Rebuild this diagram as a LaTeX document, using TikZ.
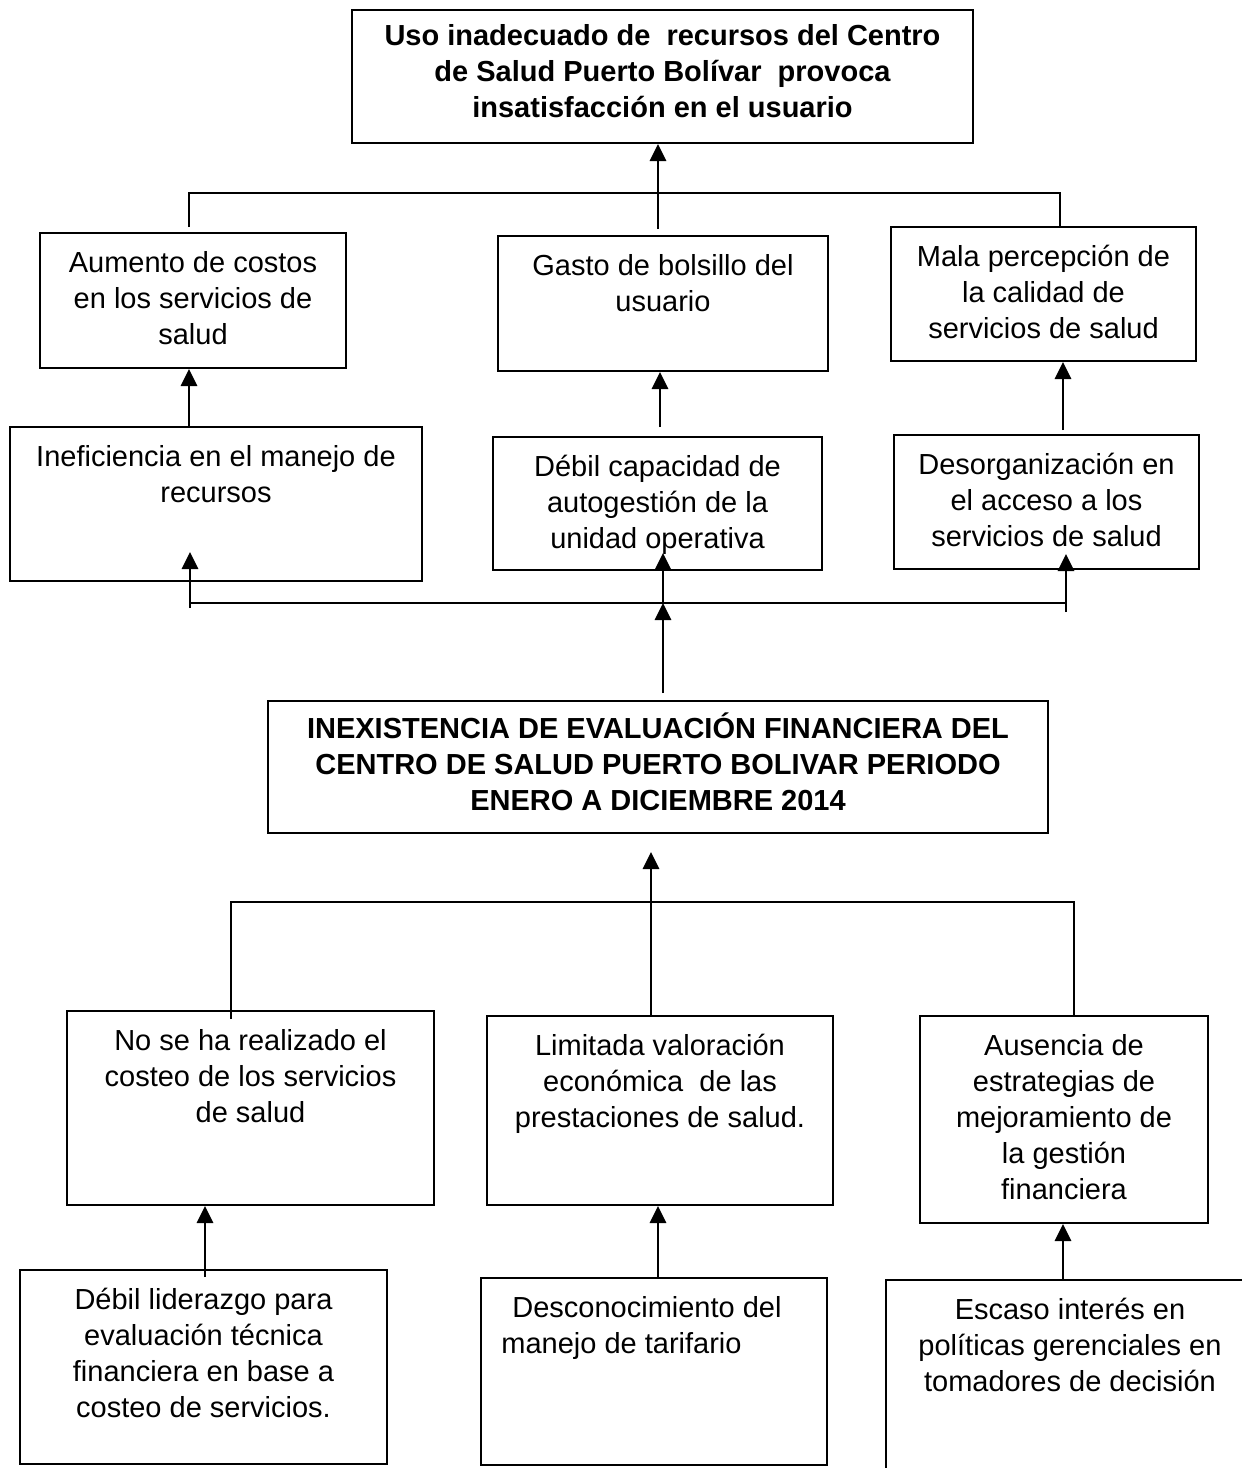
\documentclass[tikz,border=0pt]{standalone}
\usepackage{fontspec}
\setmainfont{Liberation Sans}
\usetikzlibrary{positioning,arrows.meta}
\tikzset{
  caja/.style={draw, line width=1pt, inner sep=0pt},
  texto/.style={inner sep=0pt, align=center, font=\fontsize{14.5}{18}\selectfont},
  textob/.style={texto, font=\fontsize{14.5}{18}\selectfont\bfseries},
  flecha/.style={line width=1.4pt, -{Triangle[width=8pt,length=8.5pt]}},
  rama/.style={line width=0.9pt},
}

\begin{document}
\begin{tikzpicture}[x=0.5pt,y=-0.5pt]
    \useasboundingbox (0,0) rectangle (1242,1468);

    % Efecto principal
    \node[caja, minimum width=310.5pt, minimum height=66.5pt] (efecto) at (662.5,76.5) {};
    \node (efecto_t) [textob, below=5.5pt of efecto.north] {\strut Uso inadecuado de~ recursos del Centro\\de Salud Puerto Bolívar~ provoca\\insatisfacción en el usuario};

    % Efectos
    \node[caja, minimum width=153pt, minimum height=67.5pt] (efecto1) at (193,300.5) {};
    \node (efecto1_t) [texto, below=7.5pt of efecto1.north] {\strut Aumento de costos\\en los servicios de\\salud};
    \node[caja, minimum width=165pt, minimum height=67.5pt] (efecto2) at (663,303.5) {};
    \node (efecto2_t) [texto, below=7.5pt of efecto2.north] {\strut Gasto de bolsillo del\\usuario};
    \node[caja, minimum width=152.5pt, minimum height=67pt] (efecto3) at (1043.5,294) {};
    \node (efecto3_t) [texto, below=7.5pt of efecto3.north] {\strut Mala percepción de\\la calidad de\\servicios de salud};

    % Causas directas
    \node[caja, minimum width=206pt, minimum height=77pt] (causa1) at (216,504) {};
    \node (causa1_t) [texto, below=7.5pt of causa1.north] {\strut Ineficiencia en el manejo de\\recursos};
    \node[caja, minimum width=164.5pt, minimum height=66.5pt] (causa2) at (657.5,503.5) {};
    \node (causa2_t) [texto, below=7.5pt of causa2.north] {\strut Débil capacidad de\\autogestión de la\\unidad operativa};
    \node[caja, minimum width=152.5pt, minimum height=67pt] (causa3) at (1046.5,502) {};
    \node (causa3_t) [texto, below=7.5pt of causa3.north] {\strut Desorganización en\\el acceso a los\\servicios de salud};

    % Problema central
    \node[caja, minimum width=390pt, minimum height=66pt] (problema) at (658,767) {};
    \node (problema_t) [textob, below=6pt of problema.north] {\strut INEXISTENCIA DE EVALUACIÓN FINANCIERA DEL\\CENTRO DE SALUD PUERTO BOLIVAR PERIODO\\ENERO A DICIEMBRE 2014};

    % Causas
    \node[caja, minimum width=183.5pt, minimum height=97pt] (origen1) at (250.5,1108) {};
    \node (origen1_t) [texto, below=7.5pt of origen1.north] {\strut No se ha realizado el\\costeo de los servicios\\de salud};
    \node[caja, minimum width=173pt, minimum height=94.5pt] (origen2) at (660,1110.5) {};
    \node (origen2_t) [texto, below=7.5pt of origen2.north] {\strut Limitada valoración\\económica~ de las\\prestaciones de salud.};
    \node[caja, minimum width=144pt, minimum height=103.5pt] (origen3) at (1064,1119.5) {};
    \node (origen3_t) [texto, below=7.5pt of origen3.north] {\strut Ausencia de\\estrategias de\\mejoramiento de\\la gestión\\financiera};

    % Causas de fondo
    \node[caja, minimum width=183.5pt, minimum height=97pt] (raiz1) at (203.5,1367) {};
    \node (raiz1_t) [texto, below=7.5pt of raiz1.north] {\strut Débil liderazgo para\\evaluación técnica\\financiera en base a\\costeo de servicios.};
    \node[caja, minimum width=173pt, minimum height=93.5pt] (raiz2) at (654,1371.5) {};
    \node (raiz2_t) [texto, align=left, below right=7.5pt and 10.5pt of raiz2.north west] {\strut\hspace{5.5pt}Desconocimiento del\\manejo de tarifario};
    \node[caja, minimum width=184pt, minimum height=110pt] (raiz3) at (1070,1390) {};
    \node (raiz3_t) [texto, below=7.5pt of raiz3.north] {\strut Escaso interés en\\políticas gerenciales en\\tomadores de decisión};

    % Puntos de union
    \coordinate (s1) at (189,227);
    \coordinate (s2) at (658,229);
    \coordinate (s3) at (1060,226);
    \coordinate (sup) at (658,193);
    \coordinate (f1) at (189,427);
    \coordinate (f2) at (660,427);
    \coordinate (f3) at (1063,430);
    \coordinate (m1) at (190,608);
    \coordinate (m2) at (663,603);
    \coordinate (m3) at (1066,612);
    \coordinate (p0) at (663,693);
    \coordinate (q0) at (651,909);
    \coordinate (q1) at (651,852);
    \coordinate (inf) at (651,902);
    \coordinate (b1) at (231,1019);
    \coordinate (b3) at (1074,1016);
    \coordinate (r1) at (205,1277);
    \coordinate (r2) at (658,1278);
    \coordinate (r3) at (1063,1280);

    % Efectos hacia el efecto principal
    \draw[rama] (s1) |- (sup) -| (s3);
    \draw[flecha] (s2) -- (s2 |- efecto.south);
    \draw[flecha] (f1) -- (f1 |- efecto1.south);
    \draw[flecha] (f2) -- (f2 |- efecto2.south);
    \draw[flecha] (f3) -- (f3 |- efecto3.south);

    % Problema hacia las causas directas
    \draw[line width=1.4pt] (m1 |- m2) -- (m3 |- m2);
    \draw[flecha, shorten >=-15pt] (m1) -- (m1 |- causa1.south);
    \draw[flecha, shorten >=-9pt] (m2) -- (m2 |- causa2.south);
    \draw[flecha, shorten >=-8pt] (m3) -- (m3 |- causa3.south);
    \draw[flecha] (p0) -- (m2);

    % Causas hacia el problema
    \draw[rama] (b1) |- (inf) -| (b3);
    \draw[rama] (inf) -- (inf |- origen2.north);
    \draw[flecha] (q0) -- (q1);
    \draw[flecha] (r1) -- (r1 |- origen1.south);
    \draw[flecha] (r2) -- (r2 |- origen2.south);
    \draw[flecha] (r3) -- (r3 |- origen3.south);
\end{tikzpicture}
\end{document}
